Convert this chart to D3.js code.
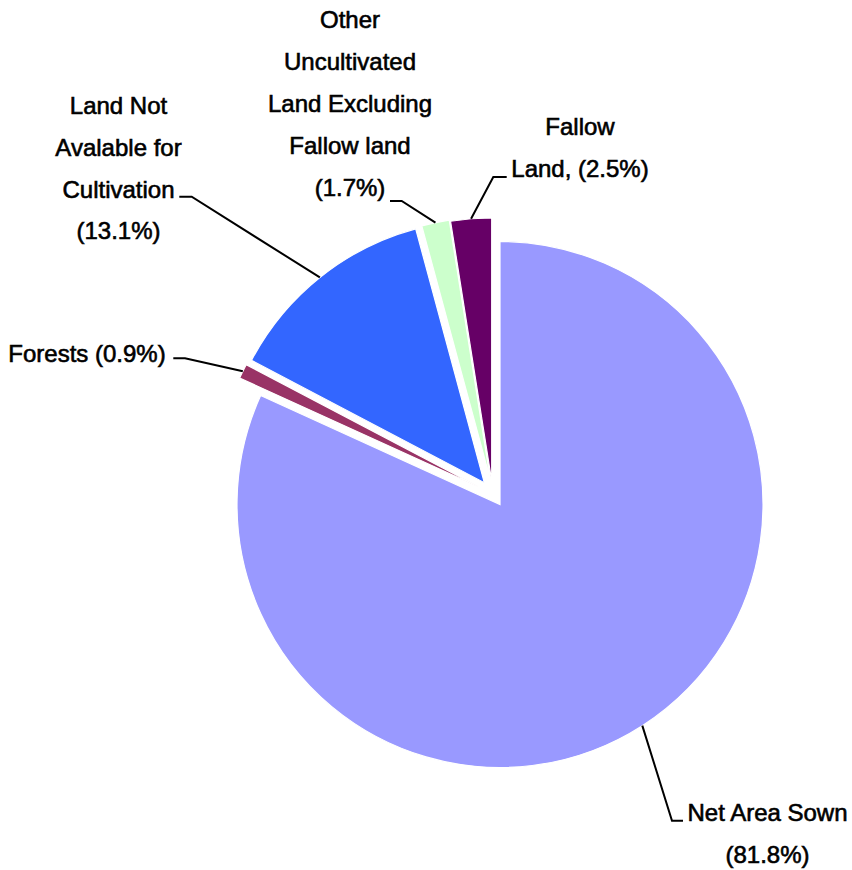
<!DOCTYPE html>
<html>
<head>
<meta charset="utf-8">
<script src="https://cdn.jsdelivr.net/npm/d3@7"></script>
<style>
    html, body { margin: 0; padding: 0; background: #fff; }
    svg { display: block; }
    text { font-family: "Liberation Sans", Arial, sans-serif; font-size: 24px; fill: #000; stroke: #000; stroke-width: 0.6px; }
</style>
</head>
<body>
<svg id="chart" width="852" height="870"></svg>
<script>
// land use shares, clockwise from 12 o'clock
const categories = ['Net Area Sown', 'Forests', 'Land Not Available for Cultivation',
    'Other Uncultivated Land Excluding Fallow land', 'Fallow Land'];
const shares = [81.8, 0.9, 13.1, 1.7, 2.5];
const labelLines = [
    ['Net Area Sown', '(81.8%)'],
    ['Forests (0.9%)'],
    ['Land Not', 'Avalable for', 'Cultivation', '(13.1%)'],
    ['Other', 'Uncultivated', 'Land Excluding', 'Fallow land', '(1.7%)'],
    ['Fallow', 'Land, (2.5%)']
];
const colors = ['#9999ff', '#993366', '#3366ff', '#ccffcc', '#660066'];

// layout (pixels) — hand-placed like the original
const cx = 500, cy = 504.5, R = 263;
const explode = [[0, 0], [-21, -17.5], [-15.7, -21.8], [-9.6, -24.7], [-8.3, -23.5]];
const labels = [
    { x: 767.5, y: 820.7, anchor: 'middle', elbow: [672, 820.7], tail: [683, 820.7] },
    { x: 8.3, y: 361.7, anchor: 'start', elbow: [185, 358.3], tail: [173.3, 358.3] },
    { x: 118.5, y: 114, anchor: 'middle', elbow: [191.7, 196.7], tail: [179.3, 196.7] },
    { x: 350, y: 28.3, anchor: 'middle', elbow: [401.7, 201], tail: [390, 201] },
    { x: 580, y: 135, anchor: 'middle', elbow: [493.3, 177], tail: [506.7, 177] }
];
const lineH = 41.8;

const svg = d3.select('#chart');
const pie = d3.pie().sort(null).value(d => d)(shares);
const arc = d3.arc().innerRadius(0).outerRadius(R);

const slices = svg.append('g').selectAll('g')
    .data(pie)
    .join('g')
    .attr('transform', (d, i) => `translate(${cx + explode[i][0]},${cy + explode[i][1]})`);

slices.append('path')
    .attr('d', arc)
    .attr('fill', (d, i) => colors[i])
    .attr('stroke', '#fff')
    .attr('stroke-width', 1.2)
    .append('title').text((d, i) => categories[i]);

// leader lines: from the middle of the rim to an elbow, then a short tick
const leaders = svg.append('g');
pie.forEach((d, i) => {
    const mid = (d.startAngle + d.endAngle) / 2;
    const p = [cx + explode[i][0] + R * Math.sin(mid), cy + explode[i][1] - R * Math.cos(mid)];
    const L = labels[i];
    leaders.append('path')
        .attr('d', d3.line()([p, L.elbow, L.tail]))
        .attr('fill', 'none')
        .attr('stroke', '#000')
        .attr('stroke-width', 2);
});

const txt = svg.append('g');
labelLines.forEach((lines, i) => {
    const L = labels[i];
    const t = txt.append('text').attr('text-anchor', L.anchor);
    lines.forEach((s, k) => {
        t.append('tspan').attr('x', L.x).attr('y', L.y + k * lineH).text(s);
    });
});
</script>
</body>
</html>
